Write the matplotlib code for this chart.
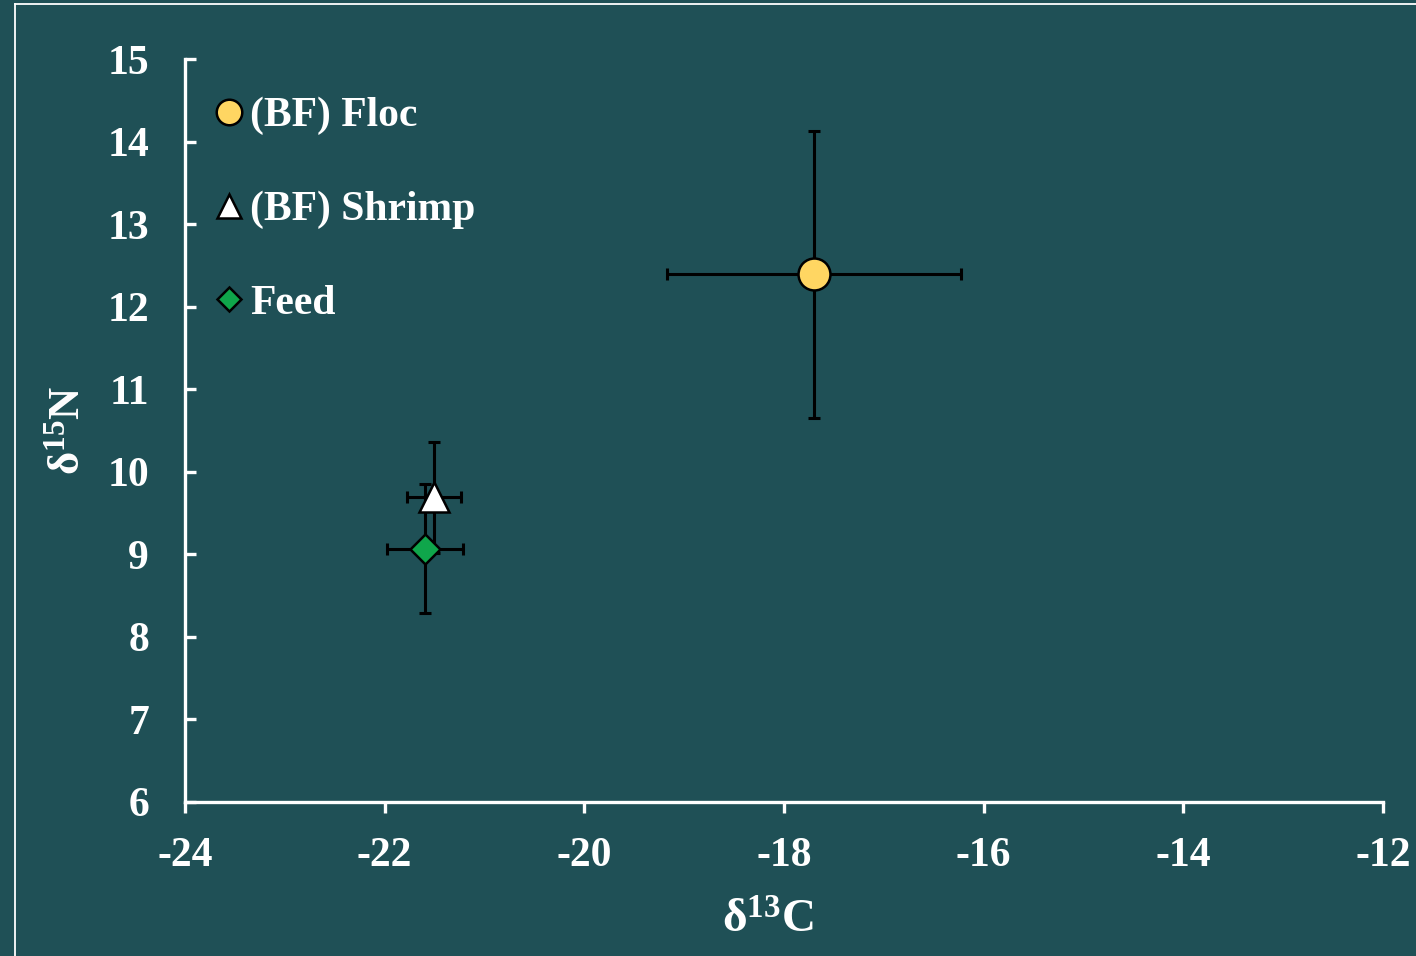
import matplotlib
matplotlib.use("Agg")
import matplotlib.pyplot as plt
from matplotlib.lines import Line2D

plt.rcParams['font.family'] = ['Liberation Serif', 'DejaVu Serif']
plt.rcParams['font.weight'] = 'bold'
plt.rcParams['mathtext.fontset'] = 'custom'
plt.rcParams['mathtext.rm'] = 'Liberation Serif:bold'
plt.rcParams['mathtext.it'] = 'Liberation Serif:bold'
plt.rcParams['mathtext.bf'] = 'Liberation Serif:bold'

# Data
labels = ["(BF) Floc", "(BF) Shrimp", "Feed"]
d13C = [-17.70, -21.51, -21.60]
d13C_err = [1.47, 0.27, 0.38]
d15N = [12.39, 9.69, 9.07]
d15N_err = [1.74, 0.67, 0.78]
markers = ["o", "^", "D"]
colors = ["#FFD662", "#FFFFFF", "#0FA64B"]
msizes = [23, 22, 15]

xticks = [-24, -22, -20, -18, -16, -14, -12]
yticks = [6, 7, 8, 9, 10, 11, 12, 13, 14, 15]

BG = "#1F5056"
W = 14.16
H = 9.56
fig = plt.figure(figsize=(W, H), dpi=100, facecolor=BG)
ax = fig.add_axes([185/1416, 1-802/956, (1383-185)/1416, (802-59)/956])
ax.set_facecolor(BG)

handles = []
for i in range(len(labels)):
    ax.errorbar(d13C[i], d15N[i], xerr=d13C_err[i], yerr=d15N_err[i],
                fmt='none', ecolor='black', elinewidth=2.2, capsize=4.5,
                capthick=2.2, zorder=2)
for i in range(len(labels)):
    h, = ax.plot(d13C[i], d15N[i], linestyle='none', marker=markers[i],
                 markersize=msizes[i], markerfacecolor=colors[i],
                 markeredgecolor='black', markeredgewidth=1.8, zorder=3,
                 label=labels[i])
    handles.append(h)

ax.set_xlim(-24, -12)
ax.set_ylim(6, 15)
ax.set_xticks(xticks)
ax.set_yticks(yticks)
ax.set_xticklabels([str(t) for t in xticks])
ax.set_yticklabels([str(t) for t in yticks])

for s in ['top', 'right']:
    ax.spines[s].set_visible(False)
for s in ['left', 'bottom']:
    ax.spines[s].set_color('white')
    ax.spines[s].set_linewidth(2.4)

ax.tick_params(axis='x', direction='out', length=8, width=2.4, colors='white',
               labelsize=30, pad=17)
ax.tick_params(axis='y', direction='in', length=8, width=2.4, colors='white',
               labelsize=30, pad=26)
for lab in ax.get_xticklabels() + ax.get_yticklabels():
    lab.set_fontweight('bold')

ax.set_xlabel('δ$^{13}$C', fontsize=34, color='white', fontweight='bold')
ax.xaxis.set_label_coords(0.4866, -0.1614)
ax.xaxis.label.set_va('center')
ax.set_ylabel('δ$^{15}$N', fontsize=32, color='white', fontweight='bold')
ax.yaxis.set_label_coords(-0.0975, 0.50)
ax.yaxis.label.set_va('center')

leg = ax.legend(handles=handles, loc='upper left', bbox_to_anchor=(-0.005, 0.9994),
                frameon=False, fontsize=30, markerscale=0.8, handlelength=0.6,
                handletextpad=0.2, labelspacing=1.33, borderaxespad=0.5)
for t in leg.get_texts():
    t.set_color('white')
    t.set_fontweight('bold')

# white frame lines (top and left)
fig.add_artist(Line2D([15/1416, 1], [1-4/956, 1-4/956], transform=fig.transFigure,
                      color='white', linewidth=1.3))
fig.add_artist(Line2D([15/1416, 15/1416], [0, 1-4/956], transform=fig.transFigure,
                      color='white', linewidth=1.3))

fig.savefig('out.png', dpi=100, facecolor=BG)
